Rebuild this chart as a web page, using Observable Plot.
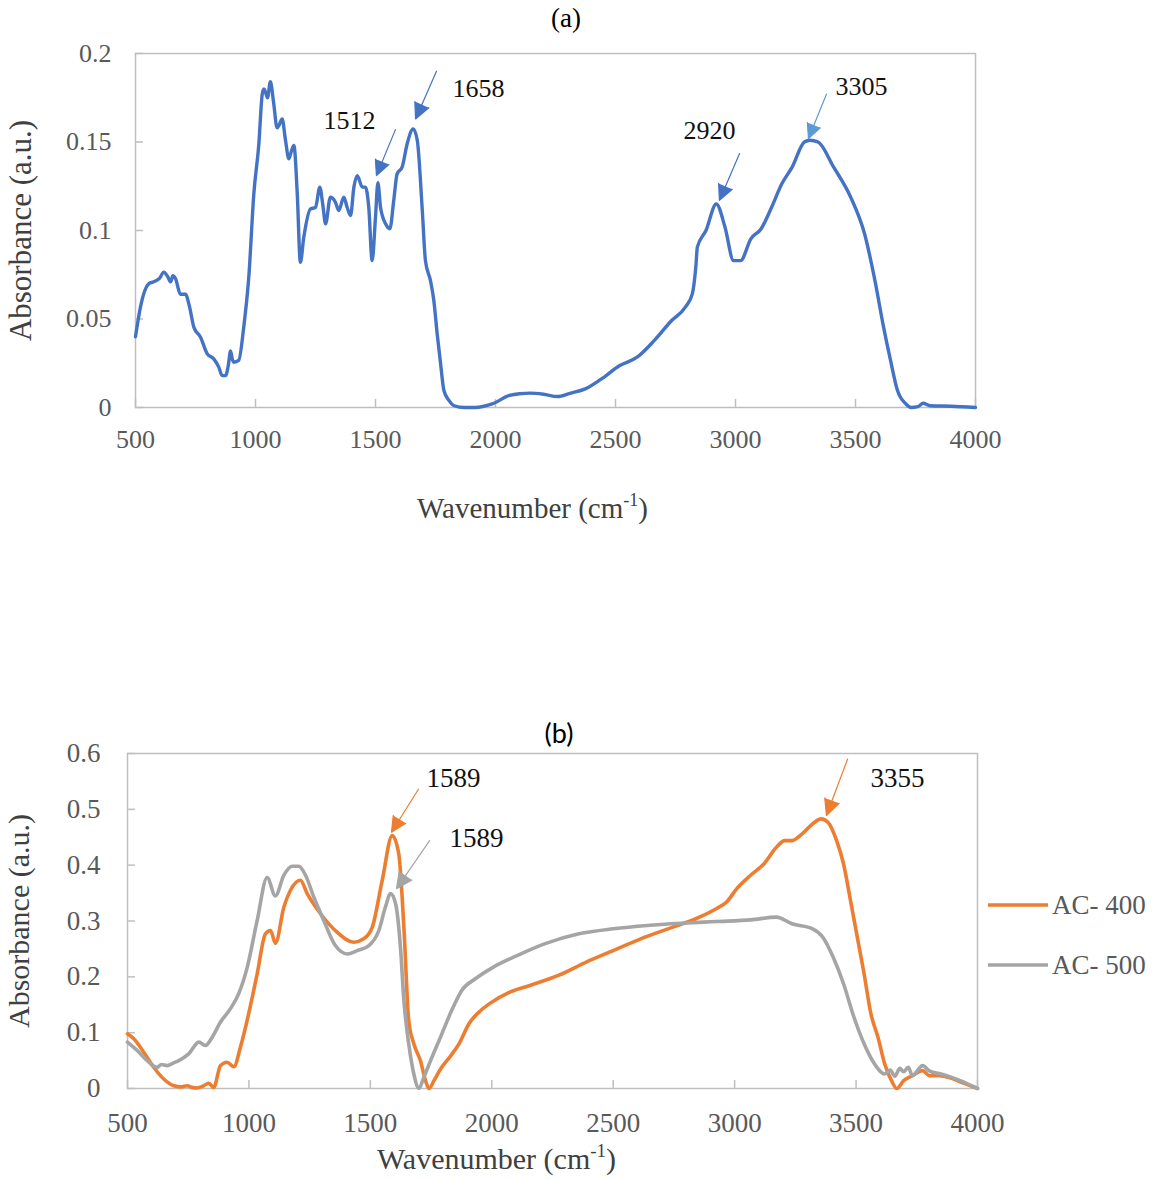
<!DOCTYPE html>
<html><head><meta charset="utf-8">
<script src="https://cdn.jsdelivr.net/npm/d3@7"></script>
<script src="https://cdn.jsdelivr.net/npm/@observablehq/plot@0.6"></script>
<style>
html,body{margin:0;padding:0;background:#fff;}
#page{position:relative;width:1155px;height:1180px;background:#fff;overflow:hidden;}
.abs{position:absolute;}
</style></head><body><div id="page"></div>
<script>
// ---------- (a) spectrum ----------
const wnA = [500,521,556,576,600,618,634,646,656,667,687,708,725,743,771,799,826,847,861,875,887,896,904,910,930,951,972,993,1014,1028,1035,1042,1050,1062,1076,1090,1100,1111,1125,1139,1150,1160,1174,1187,1201,1229,1250,1268,1280,1292,1312,1333,1347,1368,1382,1396,1410,1424,1445,1458,1472,1486,1500,1510,1521,1542,1560,1576,1590,1611,1632,1657,1674,1695,1708,1729,1743,1757,1771,1785,1806,1828,1870,1915,1986,2058,2100,2145,2200,2259,2310,2374,2440,2518,2590,2662,2733,2791,2820,2835,2841,2877,2920,2956,2992,3021,3064,3107,3150,3193,3236,3287,3310,3344,3409,3480,3538,3581,3617,3646,3675,3710,3732,3760,3782,3811,3897,4000];
const absA = [0.040,0.057,0.070,0.071,0.073,0.0765,0.074,0.071,0.0745,0.0727,0.064,0.064,0.057,0.0454,0.0397,0.0303,0.0275,0.0228,0.018,0.018,0.024,0.032,0.027,0.0256,0.0266,0.0454,0.0736,0.1207,0.149,0.177,0.180,0.178,0.175,0.184,0.1716,0.158,0.160,0.163,0.151,0.1405,0.145,0.148,0.1207,0.082,0.096,0.1122,0.113,0.1245,0.115,0.1038,0.1188,0.116,0.1113,0.1188,0.113,0.1085,0.1245,0.131,0.1245,0.1245,0.113,0.083,0.1075,0.127,0.113,0.1038,0.101,0.117,0.132,0.1358,0.149,0.1574,0.151,0.1113,0.083,0.0717,0.0605,0.0416,0.025,0.0096,0.004,0.001,0.0,0.0,0.002,0.0068,0.0078,0.0081,0.0075,0.0062,0.0080,0.0105,0.016,0.0237,0.0284,0.0379,0.049,0.0567,0.0642,0.080,0.0906,0.100,0.115,0.102,0.083,0.083,0.0953,0.101,0.113,0.1264,0.1358,0.150,0.151,0.150,0.1358,0.1188,0.098,0.0717,0.0454,0.0266,0.0096,0.002,0.0,0.0005,0.0024,0.001,0.0007,0.0];

// ---------- (b) spectra ----------
const wn400 = [500,526,567,608,649,691,720,746,765,787,810,835,855,883,910,938,965,999,1034,1068,1089,1109,1144,1171,1212,1240,1295,1363,1432,1473,1508,1549,1590,1617,1638,1658,1679,1706,1727,1741,1762,1789,1830,1865,1906,1950,1991,2076,2160,2274,2387,2500,2613,2726,2840,2924,2967,3009,3066,3122,3172,3207,3236,3278,3321,3356,3384,3420,3448,3477,3505,3533,3561,3590,3618,3646,3668,3696,3732,3774,3802,3845,3901,3943,4000];
const abs400 = [0.098,0.089,0.065,0.038,0.017,0.005,0.003,0.005,0.002,0.001,0.004,0.0095,0.002,0.041,0.047,0.039,0.074,0.134,0.2055,0.277,0.283,0.260,0.325,0.355,0.373,0.349,0.313,0.280,0.262,0.268,0.289,0.373,0.453,0.420,0.289,0.122,0.080,0.050,0.0143,0.0,0.014,0.035,0.058,0.080,0.116,0.138,0.152,0.173,0.185,0.2025,0.226,0.247,0.268,0.286,0.304,0.322,0.334,0.358,0.382,0.403,0.432,0.444,0.444,0.456,0.474,0.483,0.477,0.444,0.403,0.337,0.271,0.2055,0.134,0.092,0.044,0.014,0.0,0.014,0.023,0.032,0.023,0.023,0.017,0.0095,0.0];
const wn500 = [500,540,581,622,640,663,690,711,752,794,821,849,883,924,958,993,1034,1075,1109,1144,1178,1205,1233,1267,1308,1356,1405,1446,1494,1535,1562,1583,1604,1624,1638,1658,1679,1700,1720,1748,1789,1835,1877,1934,2005,2104,2217,2359,2500,2641,2783,2924,3066,3172,3236,3321,3363,3406,3448,3491,3533,3576,3618,3640,3660,3680,3696,3715,3732,3774,3800,3817,3850,3873,3929,4000];
const abs500 = [0.083,0.068,0.050,0.038,0.043,0.041,0.046,0.050,0.062,0.083,0.077,0.092,0.119,0.143,0.170,0.217,0.301,0.378,0.345,0.382,0.398,0.398,0.382,0.343,0.301,0.256,0.241,0.247,0.256,0.283,0.325,0.349,0.331,0.253,0.158,0.080,0.026,0.0,0.020,0.050,0.092,0.140,0.176,0.197,0.217,0.238,0.259,0.277,0.286,0.292,0.296,0.299,0.302,0.307,0.295,0.286,0.271,0.235,0.188,0.128,0.080,0.044,0.026,0.033,0.022,0.036,0.030,0.038,0.023,0.041,0.032,0.029,0.026,0.023,0.014,0.0];

// ---------- axes ticks ----------
const xTicks = [500,1000,1500,2000,2500,3000,3500,4000];
const yTicksA = [0,0.05,0.1,0.15,0.2];
const yTicksB = [0,0.1,0.2,0.3,0.4,0.5,0.6];

// ---------- series names ----------
const seriesB = ["AC- 400","AC- 500"];

// ---------- peak annotations (data units) ----------
const annA_text  = ["1512","1658","2920","3305"];
const annA_tipX  = [1504,1667,2933,3304];
const annA_tipY  = [0.131,0.163,0.117,0.152];
const annA_tailX = [1583,1754,3017,3379];
const annA_tailY = [0.157,0.190,0.1435,0.177];
const annA_labX  = [1392,1929,2892,3525];
const annA_labY  = [0.162,0.180,0.1565,0.181];

const annB_text  = ["1589","1589","3355"];
const annB_series= ["AC- 400","AC- 500","AC- 400"];
const annB_tipX  = [1587,1608,3378];
const annB_tipY  = [0.459,0.358,0.489];
const annB_tailX = [1698,1744,3465];
const annB_tailY = [0.536,0.444,0.590];
const annB_labX  = [1842,1937,3671];
const annB_labY  = [0.556,0.448,0.556];

// ---------- colours ----------
const blue = "#4472C4", lightBlue = "#5B9BD5", orange = "#ED7D31", grey = "#A5A5A5";
const axisGrey = "#BFBFBF";

// build tables
const dataA = wnA.map((w,i)=>({wn:w, a:absA[i]}));
const dataB = [
  ...wn400.map((w,i)=>({wn:w, a:abs400[i], s:seriesB[0]})),
  ...wn500.map((w,i)=>({wn:w, a:abs500[i], s:seriesB[1]}))
];
const arrowsA = annA_text.map((t,i)=>({t, x1:annA_tailX[i], y1:annA_tailY[i], x2:annA_tipX[i], y2:annA_tipY[i], lx:annA_labX[i], ly:annA_labY[i], c: i===3 ? lightBlue : blue}));
const colorB = {"AC- 400": orange, "AC- 500": grey};
const arrowsB = annB_text.map((t,i)=>({t, x1:annB_tailX[i], y1:annB_tailY[i], x2:annB_tipX[i], y2:annB_tipY[i], lx:annB_labX[i], ly:annB_labY[i], c: colorB[annB_series[i]]}));

const fmt = d => String(+d.toFixed(2));

function fixLabels(svg, xSize, ySize, xShift, color){
  const ns = "http://www.w3.org/2000/svg";
  svg.querySelectorAll("text").forEach(t=>{
    if (t.textContent === "Wavenumber (cm-1)") {
      t.textContent = "";
      const a = document.createElementNS(ns,"tspan"); a.textContent = "Wavenumber (cm";
      const b = document.createElementNS(ns,"tspan"); b.textContent = "-1"; b.setAttribute("font-size", Math.round(xSize*0.62)); b.setAttribute("dy", -xSize*0.38);
      const c = document.createElementNS(ns,"tspan"); c.textContent = ")"; c.setAttribute("dy", xSize*0.38);
      t.append(a,b,c);
    }
  });
  const gx = svg.querySelector('[aria-label="x-axis label"]');
  if (gx) {
    gx.setAttribute("font-size", xSize); gx.style.fontSize = xSize+"px"; gx.setAttribute("fill", color);
    const tr = gx.getAttribute("transform") || "";
    gx.setAttribute("transform", `translate(${xShift},0) ${tr}`);
  }
  const gy = svg.querySelector('[aria-label="y-axis label"]');
  if (gy) { gy.setAttribute("font-size", ySize); gy.style.fontSize = ySize+"px"; gy.setAttribute("fill", color); }
}

const page = document.getElementById("page");
const serif = "'Liberation Serif', 'Times New Roman', serif";

// ----- chart (a) -----
const plotA = Plot.plot({
  width: 1155, height: 530,
  marginLeft: 135, marginRight: 180, marginTop: 53, marginBottom: 123,
  style: {fontFamily: serif, fontSize: "26px", color: "#595959", background: "transparent", overflow: "visible"},
  x: {domain: [500,4000], ticks: xTicks, tickFormat: d=>String(d), tickSize: 0, tickPadding: 22,
      label: "Wavenumber (cm-1)", labelAnchor: "center", labelOffset: 110, labelArrow: "none"},
  y: {domain: [0,0.2], ticks: yTicksA, tickFormat: fmt, tickSize: 0, tickPadding: 24,
      label: "Absorbance (a.u.)", labelAnchor: "center", labelOffset: 127, labelArrow: "none"},
  marks: [
    Plot.frame({stroke: axisGrey, strokeWidth: 1.5}),
    Plot.tickX(xTicks, {x: d=>d, stroke: axisGrey, strokeWidth: 1.5, insetTop: 346}),
    Plot.tickY(yTicksA, {y: d=>d, stroke: axisGrey, strokeWidth: 1.5, insetRight: 832}),
    Plot.line(dataA, {x: "wn", y: "a", stroke: blue, strokeWidth: 3.4, strokeLinejoin: "round", curve: "monotone-x"}),
    Plot.arrow(arrowsA, {x1: "x1", y1: "y1", x2: "x2", y2: "y2", stroke: "c", fill: "c", strokeWidth: 1.2, headLength: 22, headAngle: 52}),
    Plot.text(arrowsA, {x: "lx", y: "ly", text: "t", fill: "#111", fontSize: 26})
  ]
});
plotA.style.position = "absolute"; plotA.style.left = "0px"; plotA.style.top = "0px";
fixLabels(plotA, 29, 31, -23, "#404040");
page.appendChild(plotA);

// ----- chart (b) -----
const plotB = Plot.plot({
  width: 1155, height: 480,
  marginLeft: 127, marginRight: 178, marginTop: 53, marginBottom: 92,
  style: {fontFamily: serif, fontSize: "27px", color: "#595959", background: "transparent", overflow: "visible"},
  color: {domain: seriesB, range: [orange, grey]},
  x: {domain: [500,4000], ticks: xTicks, tickFormat: d=>String(d), tickSize: 0, tickPadding: 24,
      label: "Wavenumber (cm-1)", labelAnchor: "center", labelOffset: 80, labelArrow: "none"},
  y: {domain: [0,0.6], ticks: yTicksB, tickFormat: fmt, tickSize: 0, tickPadding: 27,
      label: "Absorbance (a.u.)", labelAnchor: "center", labelOffset: 120, labelArrow: "none"},
  marks: [
    Plot.frame({stroke: axisGrey, strokeWidth: 1.5}),
    Plot.tickX(xTicks, {x: d=>d, stroke: axisGrey, strokeWidth: 1.5, insetTop: 327}),
    Plot.tickY(yTicksB, {y: d=>d, stroke: axisGrey, strokeWidth: 1.5, insetRight: 842}),
    Plot.line(dataB, {x: "wn", y: "a", z: "s", stroke: "s", strokeWidth: 3.6, strokeLinejoin: "round", curve: "monotone-x"}),
    Plot.arrow(arrowsB, {x1: "x1", y1: "y1", x2: "x2", y2: "y2", stroke: d=>d.c, fill: d=>d.c, strokeWidth: 1.2, headLength: 22, headAngle: 52}),
    Plot.text(arrowsB, {x: "lx", y: "ly", text: "t", fill: "#111", fontSize: 27})
  ]
});
plotB.style.position = "absolute"; plotB.style.left = "0px"; plotB.style.top = "700px";
fixLabels(plotB, 30, 30, -56, "#404040");
page.appendChild(plotB);

// ----- titles -----
function addDiv(html, css){ const d = document.createElement("div"); d.className="abs"; d.innerHTML = html; Object.assign(d.style, css); page.appendChild(d); return d; }
addDiv("(a)", {left:"526px", top:"3px", width:"80px", textAlign:"center", fontFamily:serif, fontSize:"27px", color:"#000"});
addDiv("(b)", {left:"519px", top:"716px", width:"80px", textAlign:"center", fontFamily:"Lato, 'Open Sans', sans-serif", fontSize:"27px", color:"#000"});

// ----- legend (b) -----
const leg = addDiv("", {left:"986px", top:"875px", fontFamily:serif, fontSize:"27px", color:"#595959"});
seriesB.forEach((s,i)=>{
  const row = document.createElement("div");
  row.style.cssText = "display:flex;align-items:center;height:60px;";
  row.innerHTML = `<svg width="64" height="12" style="margin-right:2px"><line x1="2" y1="6" x2="62" y2="6" stroke="${colorB[s]}" stroke-width="3.6"/></svg><span>${s}</span>`;
  leg.appendChild(row);
});
</script>
</body></html>
